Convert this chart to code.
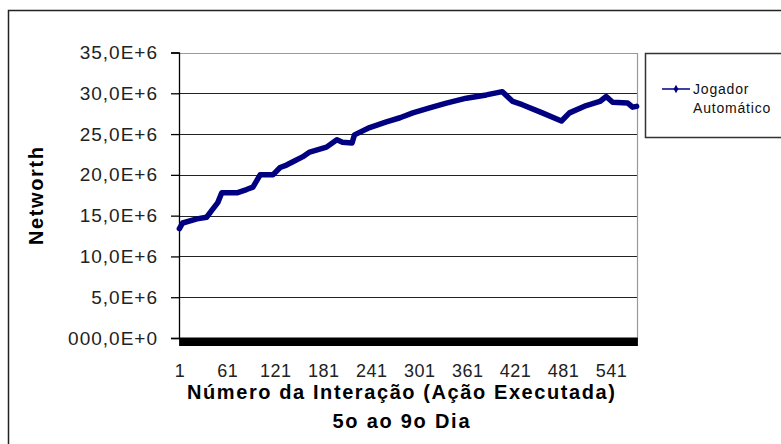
<!DOCTYPE html>
<html lang="pt">
  <head>
    <meta charset="utf-8" />
    <title>Networth - Jogador Automático</title>
    <script type="text/javascript" src="https://d3js.org/d3.v7.min.js"></script>
    <style>
      body { margin: 0; background: #fff; }
      text { font-family: "Liberation Sans", Arial, sans-serif; }
    </style>
  </head>
  <body>
    <div id="chart"></div>

    <script type="text/javascript">
      /********************************
       * data
       ********************************/

      // iteration number (x) and networth in millions (y)
      const iterations = [1, 5, 23, 35, 42, 49, 54, 73, 85, 93, 102, 118, 127, 135, 143, 155, 164, 185, 198, 205, 217, 220, 239, 260, 277, 293, 314, 335, 360, 385, 405, 418, 430, 455, 479, 489, 510, 527, 535, 543, 562, 568, 573];
      const networth = [13.4, 14.1, 14.6, 14.8, 15.7, 16.6, 17.8, 17.8, 18.2, 18.5, 20.0, 20.0, 20.9, 21.2, 21.6, 22.2, 22.8, 23.4, 24.3, 24.0, 23.9, 24.9, 25.8, 26.5, 27.0, 27.6, 28.2, 28.8, 29.4, 29.8, 30.2, 29.0, 28.6, 27.6, 26.6, 27.6, 28.5, 29.0, 29.6, 28.9, 28.8, 28.3, 28.4];
      const nIterations = 573;

      const xTickValues = [1, 61, 121, 181, 241, 301, 361, 421, 481, 541];
      const yTickValues = [0, 5e6, 10e6, 15e6, 20e6, 25e6, 30e6, 35e6];
      const yTickLabels = ["000,0E+0", "5,0E+6", "10,0E+6", "15,0E+6", "20,0E+6", "25,0E+6", "30,0E+6", "35,0E+6"];

      const seriesName = ["Jogador", "Automático"];
      const xTitle = "Número da Interação (Ação Executada)";
      const xSubtitle = "5o ao 9o Dia";
      const yTitle = "Networth";

      const data = iterations.map((it, i) => ({ it: it, value: networth[i] * 1e6 }));

      /***************************
       * create svg
       **************************/

      const width = 781;
      const height = 444;
      const plot = { left: 179, right: 637, top: 52.5, bottom: 338 };

      const svg = d3
        .select("div#chart")
        .append("svg")
        .attr("width", width)
        .attr("height", height);

      // outer chart frame (runs off the right and bottom edges)
      svg
        .append("rect")
        .attr("x", 8.5)
        .attr("y", 10.5)
        .attr("width", 800)
        .attr("height", 460)
        .attr("fill", "#fff")
        .attr("stroke", "#222")
        .attr("stroke-width", 1.5);

      /****************************
       * scale
       *************************/

      const xScale = d3
        .scaleLinear()
        .domain([0.5, nIterations + 0.5])
        .range([plot.left, plot.right]);

      const yScale = d3
        .scaleLinear()
        .domain([0, 35e6])
        .range([plot.bottom, plot.top]);

      /*********************************
       * gridlines + plot border
       *******************************/

      svg
        .append("g")
        .selectAll("line")
        .data(yTickValues.filter((v) => v > 0 && v < 35e6))
        .enter()
        .append("line")
        .attr("x1", plot.left)
        .attr("x2", plot.right)
        .attr("y1", (d) => Math.round(yScale(d)) + 0.5)
        .attr("y2", (d) => Math.round(yScale(d)) + 0.5)
        .attr("stroke", "#222")
        .attr("stroke-width", 1.2);

      // top and right edge of plot area are grey
      svg
        .append("path")
        .attr("d", `M${plot.left},${Math.round(plot.top) + 0.5}H${plot.right + 0.5}V${plot.bottom}`)
        .attr("fill", "none")
        .attr("stroke", "#999")
        .attr("stroke-width", 1.2);

      /*********************************
       * create Axes
       *******************************/

      const yAxis = d3
        .axisLeft(yScale)
        .tickValues(yTickValues)
        .tickSize(8)
        .tickPadding(13)
        .tickFormat((d, i) => yTickLabels[i]);

      const yAxisGroup = svg
        .append("g")
        .attr("class", "y axis")
        .attr("transform", `translate(${plot.left},0)`)
        .call(yAxis);

      yAxisGroup.selectAll("path, line").attr("stroke", "#000").attr("stroke-width", 1.3);
      yAxisGroup
        .selectAll("text")
        .attr("font-size", 19)
        .attr("letter-spacing", "1px")
        .attr("fill", "#222");

      // one tick per category, so dense they merge into a solid bar
      const xTickAxis = d3
        .axisBottom(xScale)
        .tickValues(d3.range(1, nIterations + 1))
        .tickSize(8)
        .tickSizeOuter(0)
        .tickFormat("");

      const xTickGroup = svg
        .append("g")
        .attr("class", "x axis")
        .attr("transform", `translate(0,${plot.bottom})`)
        .call(xTickAxis);

      xTickGroup.select("path").attr("stroke", "#000").attr("stroke-width", 2);
      xTickGroup.selectAll("line").attr("stroke", "#000").attr("stroke-width", 1.6);

      const xLabelAxis = d3
        .axisBottom(xScale)
        .tickValues(xTickValues)
        .tickSize(0)
        .tickPadding(26)
        .tickFormat(d3.format("d"));

      const xLabelGroup = svg
        .append("g")
        .attr("transform", `translate(0,${plot.bottom})`)
        .call(xLabelAxis);

      xLabelGroup.select("path").remove();
      xLabelGroup
        .selectAll("text")
        .attr("font-size", 18)
        .attr("letter-spacing", "0.5px")
        .attr("fill", "#222");

      /*******************************
       * axis titles
       *******************************/

      svg
        .append("text")
        .attr("x", 401)
        .attr("y", 399)
        .attr("text-anchor", "middle")
        .attr("font-size", 20)
        .attr("font-weight", "bold")
        .attr("textLength", 428)
        .attr("lengthAdjust", "spacing")
        .text(xTitle);

      svg
        .append("text")
        .attr("x", 401)
        .attr("y", 428)
        .attr("text-anchor", "middle")
        .attr("font-size", 20)
        .attr("font-weight", "bold")
        .attr("textLength", 137)
        .attr("lengthAdjust", "spacing")
        .text(xSubtitle);

      svg
        .append("text")
        .attr("transform", "translate(43,196) rotate(-90)")
        .attr("text-anchor", "middle")
        .attr("font-size", 20)
        .attr("font-weight", "bold")
        .attr("textLength", 98)
        .attr("lengthAdjust", "spacing")
        .text(yTitle);

      /********************************
       * line
       * *******************************/

      const line = d3
        .line()
        .x((d) => xScale(d.it))
        .y((d) => yScale(d.value));

      svg
        .append("path")
        .datum(data)
        .attr("d", line)
        .attr("fill", "none")
        .attr("stroke", "#000080")
        .attr("stroke-width", 5.5)
        .attr("stroke-linejoin", "round")
        .attr("stroke-linecap", "round");

      /********************************
       * legend
       * *******************************/

      const legend = svg.append("g").attr("transform", "translate(645,53)");

      legend
        .append("rect")
        .attr("x", 0.5)
        .attr("y", 0.5)
        .attr("width", 200)
        .attr("height", 84)
        .attr("fill", "#fff")
        .attr("stroke", "#333")
        .attr("stroke-width", 1.5);

      legend
        .append("line")
        .attr("x1", 17)
        .attr("x2", 45)
        .attr("y1", 36)
        .attr("y2", 36)
        .attr("stroke", "#000080")
        .attr("stroke-width", 1.5);

      legend
        .append("path")
        .attr("d", d3.symbol(d3.symbolDiamond, 20)())
        .attr("transform", "translate(31,36)")
        .attr("fill", "#000080");

      legend
        .selectAll("text.name")
        .data(seriesName)
        .enter()
        .append("text")
        .attr("class", "name")
        .attr("x", 48)
        .attr("y", (d, i) => 41 + i * 19)
        .attr("font-size", 14)
        .attr("letter-spacing", "0.8px")
        .attr("fill", "#111")
        .text((d) => d);
    </script>
  </body>
</html>
